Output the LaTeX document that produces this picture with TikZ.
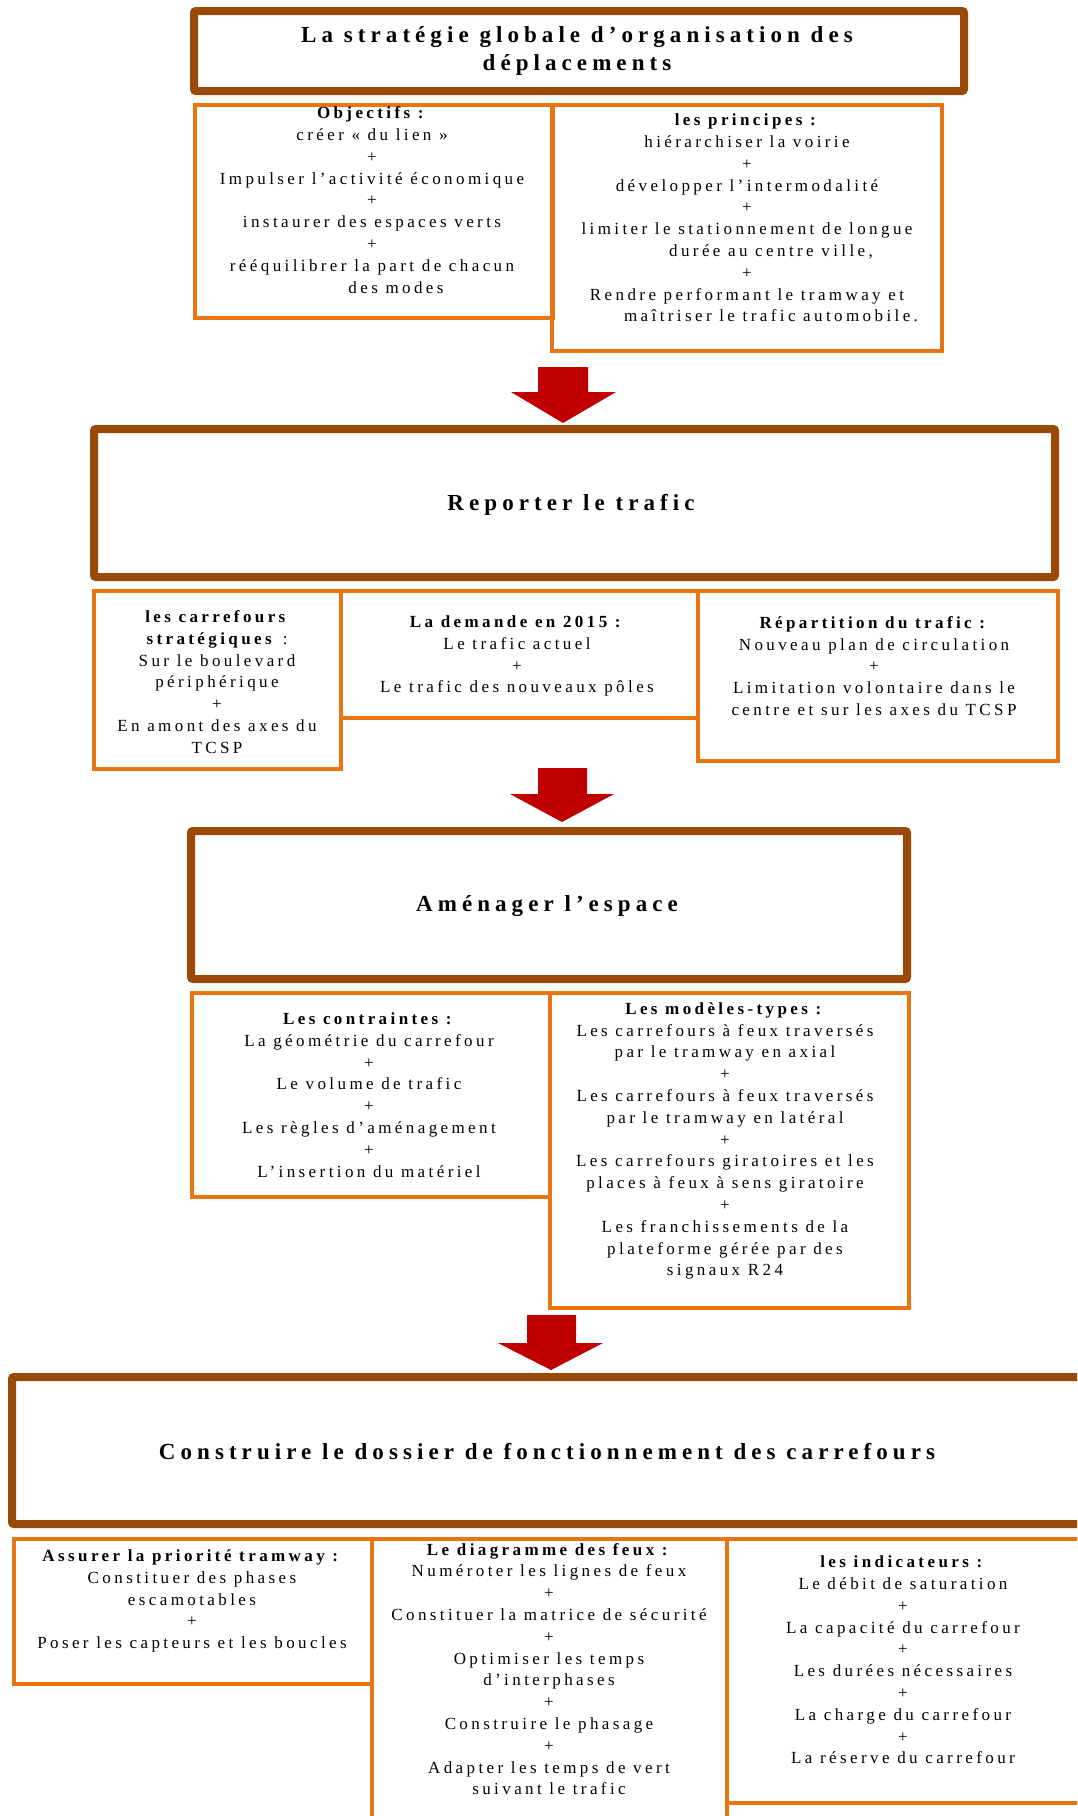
\documentclass[tikz,border=0pt]{standalone}
\usepackage{fontspec}
\setmainfont{Liberation Serif}
\newfontfamily\bodyf[LetterSpace=20]{Liberation Serif}
\newfontfamily\ttlf[LetterSpace=22]{Liberation Serif}
\usetikzlibrary{fit}
\definecolor{brownc}{RGB}{153,74,8}
\definecolor{orangec}{RGB}{232,117,17}
\definecolor{redc}{RGB}{192,0,0}
\newcommand\hd[1]{\textbf{#1}}
\newcommand\shiftln{\hspace*{48pt}}
\begin{document}
\begin{tikzpicture}[x=1pt,y=-1pt,
  bigbox/.style={draw=brownc, line width=8pt, fill=white, rounded corners=2pt, inner sep=0pt},
  smallbox/.style={draw=orangec, line width=3.5pt, inner sep=0pt},
  txt/.style={align=center, font=\bodyf\fontsize{17}{21.8}\selectfont, inner sep=0pt},
  ttl/.style={align=center, font=\ttlf\bfseries\fontsize{23}{28}\selectfont, inner sep=0pt},
  bigarrow/.style={fill=redc}]
\useasboundingbox (0,0) rectangle (1077,1816);
\clip (0,0) rectangle (1077,1816);
% ---- block 1
\node[bigbox, fit={(194,11) (964,91)}] (b1) {};
\node[smallbox, fit={(195,105) (553,318)}] (obj) {};
\node[smallbox, fit={(552,105) (942,351)}] (pri) {};
\node[ttl] (t1) at (577,51) {La stratégie globale d’organisation des\\déplacements};
\node[txt] (tobj) at (372,200) {\hd{Objectifs :}\\créer « du lien »\\+\\Impulser l’activité économique\\+\\instaurer des espaces verts\\+\\rééquilibrer la part de chacun\\\shiftln des modes};
\node[txt] (tpri) at (747,218) {\hd{les principes :}\\hiérarchiser la voirie\\+\\développer l’intermodalité\\+\\limiter le stationnement de longue\\\shiftln durée au centre ville,\\+\\Rendre performant le tramway et\\\shiftln maîtriser le trafic automobile.};
% arrow 1
\fill[bigarrow] (538,367) -- (588,367) -- (588,392) -- (616,392) -- (563,423) -- (511,392) -- (538,392) -- cycle;
% ---- block 2
\node[bigbox, fit={(94,429) (1055,577)}] (b2) {};
\node[smallbox, fit={(94,591) (341,769)}] (car) {};
\node[smallbox, fit={(341,591) (698,718)}] (dem) {};
\node[smallbox, fit={(698,591) (1058,761)}] (rep) {};
\node[ttl] (t2) at (571,505) {Reporter le trafic};
\node[txt] (tcar) at (217,682) {\hd{les carrefours}\\\hd{stratégiques} :\\Sur le boulevard\\périphérique\\+\\En amont des axes du\\TCSP};
\node[txt] (tdem) at (517,656) {\hd{La demande en 2015 :}\\Le trafic actuel\\+\\Le trafic des nouveaux pôles};
\node[txt] (trep) at (874,666) {\hd{Répartition du trafic :}\\Nouveau plan de circulation\\+\\Limitation volontaire dans le\\centre et sur les axes du TCSP};
% arrow 2
\fill[bigarrow] (538,768) -- (587,768) -- (587,794) -- (614,794) -- (562,822) -- (510,794) -- (538,794) -- cycle;
% ---- block 3
\node[bigbox, fit={(191,831) (907,979)}] (b3) {};
\node[smallbox, fit={(192,993) (550,1197)}] (con) {};
\node[smallbox, fit={(550,993) (909,1308)}] (mod) {};
\node[ttl] (t3) at (547,906) {Aménager l’espace};
\node[txt] (tcon) at (369,1095) {\hd{Les contraintes :}\\La géométrie du carrefour\\+\\Le volume de trafic\\+\\Les règles d’aménagement\\+\\L’insertion du matériel};
\node[txt] (tmod) at (725,1141) {\hd{Les modèles-types :}\\Les carrefours à feux traversés\\par le tramway en axial\\+\\Les carrefours à feux traversés\\par le tramway en latéral\\+\\Les carrefours giratoires et les\\places à feux à sens giratoire\\+\\Les franchissements de la\\plateforme gérée par des\\signaux R24};
% arrow 3
\fill[bigarrow] (527,1315) -- (576,1315) -- (576,1343) -- (603,1343) -- (551,1370) -- (498,1343) -- (527,1343) -- cycle;
% ---- block 4
\node[bigbox, fit={(12,1377) (1110,1524)}] (b4) {};
\node[smallbox, fit={(14,1539) (372,1684)}] (ass) {};
\node[smallbox, fit={(372,1539) (727,1840)}] (dia) {};
\node[smallbox, fit={(727,1539) (1110,1803)}] (ind) {};
\node[ttl] (t4) at (547,1452) {Construire le dossier de fonctionnement des carrefours};
\node[txt] (tass) at (192,1601) {\hd{Assurer la priorité tramway :}\\Constituer des phases\\escamotables\\+\\Poser les capteurs et les boucles};
\node[txt] (tdia) at (549,1669) {\hd{Le diagramme des feux :}\\Numéroter les lignes de feux\\+\\Constituer la matrice de sécurité\\+\\Optimiser les temps\\d’interphases\\+\\Construire le phasage\\+\\Adapter les temps de vert\\suivant le trafic};
\node[txt] (tind) at (903,1660) {\hd{les indicateurs :}\\Le débit de saturation\\+\\La capacité du carrefour\\+\\Les durées nécessaires\\+\\La charge du carrefour\\+\\La réserve du carrefour};
\end{tikzpicture}
\end{document}
